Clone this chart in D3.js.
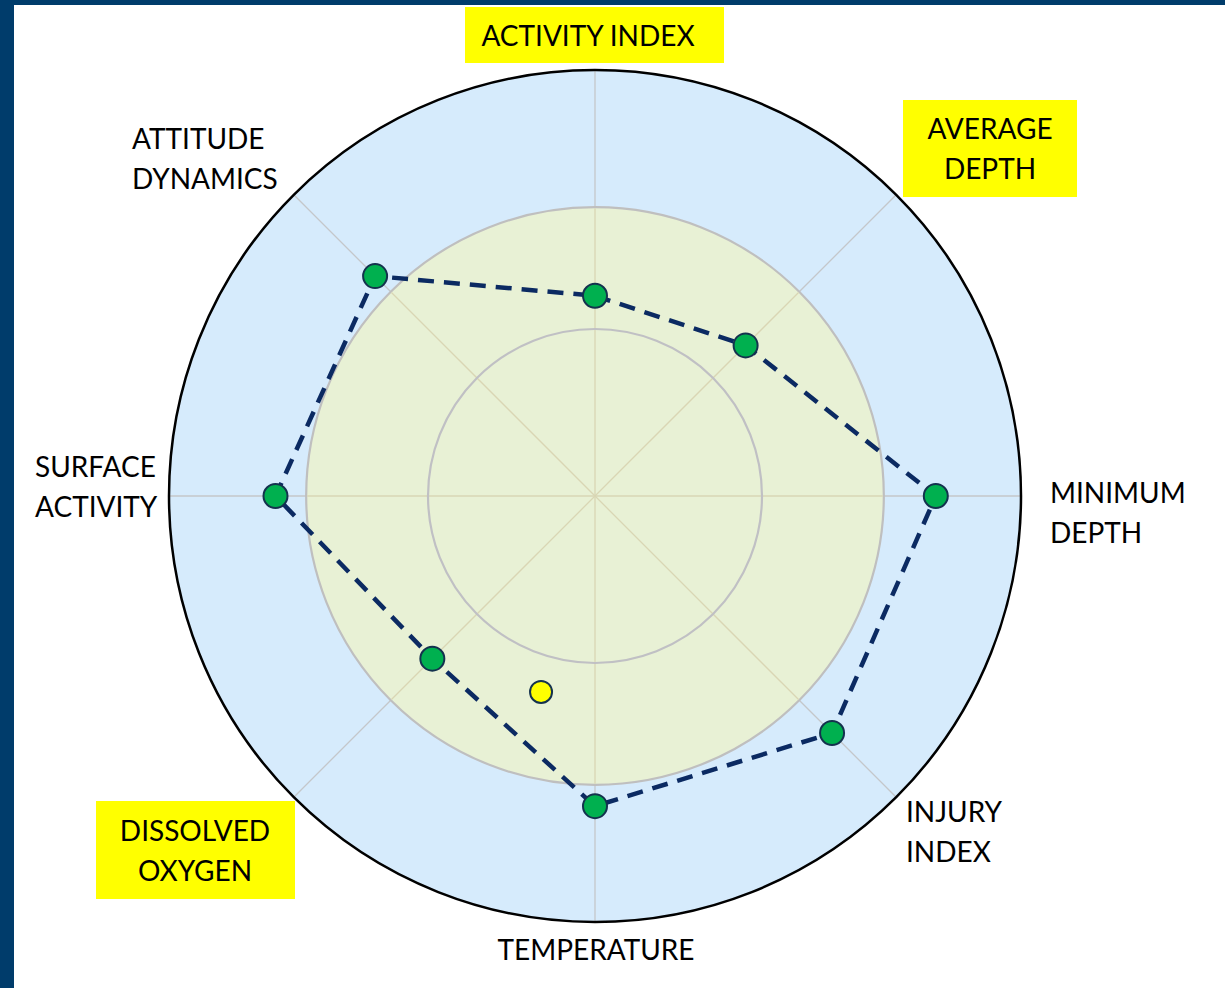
<!DOCTYPE html>
<html>
<head>
<meta charset="utf-8">
<script src="https://cdn.jsdelivr.net/npm/d3@7"></script>
<style>
  html, body { margin: 0; padding: 0; background: #ffffff; }
  svg { display: block; }
  text { font-family: Lato, "Noto Sans", sans-serif; fill: #000; }
</style>
</head>
<body>
<svg id="chart" width="1225" height="988"></svg>
<script>
// axis names, clockwise from the top
var categories = ["ACTIVITY INDEX", "AVERAGE DEPTH", "MINIMUM DEPTH", "INJURY INDEX",
                  "TEMPERATURE", "DISSOLVED OXYGEN", "SURFACE ACTIVITY", "ATTITUDE DYNAMICS"];
// label lines as printed
var labelLines = [["ACTIVITY INDEX"], ["AVERAGE", "DEPTH"], ["MINIMUM", "DEPTH"], ["INJURY", "INDEX"],
                  ["TEMPERATURE"], ["DISSOLVED", "OXYGEN"], ["SURFACE", "ACTIVITY"], ["ATTITUDE", "DYNAMICS"]];
// series values (0-100 scale)
var values = [47, 50, 80, 78.7, 72.8, 54, 75, 73];
// categories that get a yellow highlight
var highlighted = ["ACTIVITY INDEX", "AVERAGE DEPTH", "DISSOLVED OXYGEN"];
// reference rings (0-100 scale)
var ringValues = [39.2, 67.8, 100];
// the single yellow marker: angle in degrees clockwise from top, value
var markerAngle = [195.4];
var markerValue = [47.7];

var svg = d3.select("#chart");
var cx = 595, cy = 496, outerR = 426;

// frame strips
svg.append("rect").attr("x", 0).attr("y", 0).attr("width", 1225).attr("height", 5).attr("fill", "#003c6b");
svg.append("rect").attr("x", 0).attr("y", 0).attr("width", 14).attr("height", 988).attr("fill", "#003c6b");

var rScale = d3.scaleLinear().domain([0, 100]).range([0, outerR]);
var angleScale = d3.scaleLinear().domain([0, categories.length]).range([0, 2 * Math.PI]);

function px(a, r) { return cx + r * Math.sin(a); }
function py(a, r) { return cy - r * Math.cos(a); }

var g = svg.append("g");

// outer disk (blue)
g.append("circle").attr("cx", cx).attr("cy", cy).attr("r", rScale(ringValues[2]))
  .attr("fill", "#d6ebfc").attr("stroke", "none");

// spokes in the blue band
g.selectAll(".spoke-out").data(categories).enter().append("line")
  .attr("x1", function(d, i) { return px(angleScale(i), rScale(ringValues[1])); })
  .attr("y1", function(d, i) { return py(angleScale(i), rScale(ringValues[1])); })
  .attr("x2", function(d, i) { return px(angleScale(i), rScale(ringValues[2])); })
  .attr("y2", function(d, i) { return py(angleScale(i), rScale(ringValues[2])); })
  .attr("stroke", "#c4c7ca").attr("stroke-width", 1.3);

// green disk
g.append("circle").attr("cx", cx).attr("cy", cy).attr("r", rScale(ringValues[1]))
  .attr("fill", "#e8f1d5").attr("stroke", "#bfbfbf").attr("stroke-width", 2.2);

// spokes inside the green disk
g.selectAll(".spoke-in").data(categories).enter().append("line")
  .attr("x1", cx).attr("y1", cy)
  .attr("x2", function(d, i) { return px(angleScale(i), rScale(ringValues[1]) - 1); })
  .attr("y2", function(d, i) { return py(angleScale(i), rScale(ringValues[1]) - 1); })
  .attr("stroke", "#d9d6b4").attr("stroke-width", 1.3);

// inner ring
g.append("circle").attr("cx", cx).attr("cy", cy).attr("r", rScale(ringValues[0]))
  .attr("fill", "none").attr("stroke", "#c0c0c4").attr("stroke-width", 2.2);

// outer border
g.append("circle").attr("cx", cx).attr("cy", cy).attr("r", rScale(ringValues[2]))
  .attr("fill", "none").attr("stroke", "#000").attr("stroke-width", 2.5);

// series line
var line = d3.lineRadial()
  .angle(function(d, i) { return angleScale(i); })
  .radius(function(d) { return rScale(d); })
  .curve(d3.curveLinearClosed);

g.append("path").datum(values)
  .attr("transform", "translate(" + cx + "," + cy + ")")
  .attr("d", line)
  .attr("fill", "none").attr("stroke", "#0b2a62").attr("stroke-width", 4.5)
  .attr("stroke-dasharray", "16,10");

// series points
g.selectAll(".pt").data(values).enter().append("circle")
  .attr("cx", function(d, i) { return px(angleScale(i), rScale(d)); })
  .attr("cy", function(d, i) { return py(angleScale(i), rScale(d)); })
  .attr("r", 12)
  .attr("fill", "#00b04f").attr("stroke", "#14324e").attr("stroke-width", 2);

// yellow marker
g.selectAll(".marker").data(markerValue).enter().append("circle")
  .attr("cx", function(d, i) { return px(markerAngle[i] * Math.PI / 180, rScale(d)); })
  .attr("cy", function(d, i) { return py(markerAngle[i] * Math.PI / 180, rScale(d)); })
  .attr("r", 11)
  .attr("fill", "#ffff00").attr("stroke", "#14324e").attr("stroke-width", 2);

// label layout (anchor point, alignment, highlight box)
var labelLayout = [
  { x: 588, y: 46, anchor: "middle", box: [465, 7, 259, 56] },
  { x: 990, y: 139, anchor: "middle", box: [903, 100, 174, 97] },
  { x: 1050, y: 503, anchor: "start" },
  { x: 906, y: 822, anchor: "start" },
  { x: 596, y: 960, anchor: "middle" },
  { x: 195, y: 841, anchor: "middle", box: [96, 801, 199, 98] },
  { x: 35, y: 477, anchor: "start" },
  { x: 132, y: 149, anchor: "start" }
];
var lineGap = 40;

var labels = svg.selectAll(".label").data(categories).enter().append("g").attr("class", "label");

labels.filter(function(d) { return highlighted.indexOf(d) >= 0; })
  .append("rect")
  .attr("x", function(d) { return labelLayout[categories.indexOf(d)].box[0]; })
  .attr("y", function(d) { return labelLayout[categories.indexOf(d)].box[1]; })
  .attr("width", function(d) { return labelLayout[categories.indexOf(d)].box[2]; })
  .attr("height", function(d) { return labelLayout[categories.indexOf(d)].box[3]; })
  .attr("fill", "#ffff00");

labels.each(function(d, i) {
  var lay = labelLayout[i];
  var t = d3.select(this).append("text")
    .attr("text-anchor", lay.anchor)
    .style("font-size", "28px");
  labelLines[i].forEach(function(s, k) {
    t.append("tspan").attr("x", lay.x).attr("y", lay.y + k * lineGap).text(s);
  });
});
</script>
</body>
</html>
